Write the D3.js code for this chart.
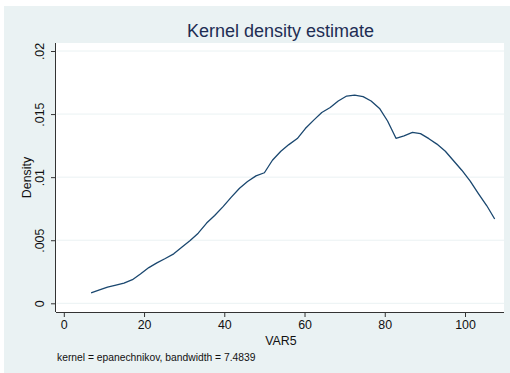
<!DOCTYPE html>
<html>
<head>
<meta charset="utf-8">
<script src="https://cdn.jsdelivr.net/npm/d3@7"></script>
<style>
  html, body { margin: 0; padding: 0; background: #ffffff; }
  svg { display: block; font-family: "Liberation Sans", Arial, sans-serif; }
</style>
</head>
<body>
<svg id="chart" width="510" height="373"></svg>
<script>
// Evaluation points of the density estimate (VAR5) and the estimated densities
const var5 = [6.8, 8.9, 10.9, 13.0, 15.0, 17.1, 19.1, 21.2, 23.2, 25.3,
              27.4, 29.4, 31.5, 33.5, 35.6, 37.6, 39.7, 41.7, 43.8, 45.8,
              47.9, 50.0, 52.0, 54.1, 56.1, 58.2, 60.2, 62.3, 64.3, 66.4,
              68.4, 70.5, 72.5, 74.6, 76.6, 78.7, 80.7, 82.8, 84.8, 86.9,
              88.9, 91.0, 93.0, 95.1, 97.2, 99.2, 101.3, 103.3, 105.4, 107.4];
const density = [0.00082, 0.00106, 0.00128, 0.00145, 0.00160, 0.00187, 0.00232, 0.00283, 0.00320, 0.00355,
                 0.00392, 0.00445, 0.00498, 0.00556, 0.00636, 0.00696, 0.00766, 0.00840, 0.00912, 0.00965,
                 0.01010, 0.01035, 0.01134, 0.01205, 0.01258, 0.01306, 0.01385, 0.01452, 0.01512, 0.01552,
                 0.01604, 0.01643, 0.01650, 0.01638, 0.01604, 0.01545, 0.01445, 0.01308, 0.01328, 0.01355,
                 0.01345, 0.01305, 0.01262, 0.01205, 0.01128, 0.01055, 0.00968, 0.00872, 0.00775, 0.00668];

const xTicks = [0, 20, 40, 60, 80, 100];
const yTicks = [0, 0.005, 0.01, 0.015, 0.02];
const yTickLabels = ["0", ".005", ".01", ".015", ".02"];

const titleText = "Kernel density estimate";
const xTitle = "VAR5";
const yTitle = "Density";
const noteText = "kernel = epanechnikov, bandwidth = 7.4839";

const svg = d3.select("#chart");
const W = 510, H = 373;

// graph region
svg.append("rect").attr("x", 4).attr("y", 6).attr("width", W - 4).attr("height", H - 6)
  .attr("fill", "#eaf2f3");

// plot region
const plot = { left: 56, right: 504, top: 43, bottom: 312 };
svg.append("rect")
  .attr("x", plot.left).attr("y", plot.top)
  .attr("width", plot.right - plot.left).attr("height", plot.bottom - plot.top)
  .attr("fill", "#ffffff");

const x = d3.scaleLinear().domain([0, 100]).range([63.8, 465.0]);
const y = d3.scaleLinear().domain([0, 0.02]).range([303.3, 51.0]);

// horizontal grid lines
svg.append("g").selectAll("line").data(yTicks).join("line")
  .attr("x1", plot.left + 1).attr("x2", plot.right)
  .attr("y1", d => y(d)).attr("y2", d => y(d))
  .attr("stroke", "#eaf2f3").attr("stroke-width", 1);

// density curve
const pts = var5.map((v, i) => [v, density[i]]);
svg.append("path")
  .datum(pts)
  .attr("fill", "none")
  .attr("stroke", "#1a476f")
  .attr("stroke-width", 1.3)
  .attr("stroke-linejoin", "round")
  .attr("d", d3.line().x(d => x(d[0])).y(d => y(d[1])));

// x axis
const xAxis = d3.axisBottom(x).tickValues(xTicks).tickSize(5).tickPadding(3)
  .tickFormat(d3.format("d"));
const gx = svg.append("g").attr("transform", `translate(0,${plot.bottom})`).call(xAxis);
gx.select(".domain").attr("d", `M${plot.left},0.5H${plot.right}`).attr("stroke", "#333");
gx.selectAll(".tick line").attr("stroke", "#333");
gx.selectAll(".tick text").attr("font-size", 12.4).attr("fill", "#111")
  .attr("font-family", "Liberation Sans, Arial, sans-serif");

// y axis
const yAxis = d3.axisLeft(y).tickValues(yTicks).tickSize(5).tickPadding(0)
  .tickFormat((d, i) => yTickLabels[i]);
const gy = svg.append("g").attr("transform", `translate(${plot.left},0)`).call(yAxis);
gy.select(".domain").attr("d", `M-0.5,${plot.top}V${plot.bottom}`).attr("stroke", "#333");
gy.selectAll(".tick line").attr("stroke", "#333");
gy.selectAll(".tick text")
  .attr("font-size", 12.4).attr("fill", "#111")
  .attr("font-family", "Liberation Sans, Arial, sans-serif")
  .attr("text-anchor", "middle")
  .attr("x", 0).attr("dy", 0)
  .attr("transform", "translate(-16,0) rotate(-90)")
  .attr("dominant-baseline", "central");

// titles
svg.append("text").attr("x", 280.5).attr("y", 36.5)
  .attr("text-anchor", "middle").attr("font-size", 18).attr("fill", "#1e2d53")
  .text(titleText);

svg.append("text").attr("x", 281).attr("y", 345)
  .attr("text-anchor", "middle").attr("font-size", 12.4).attr("fill", "#111")
  .text(xTitle);

svg.append("text")
  .attr("transform", `translate(31,${(plot.top + plot.bottom) / 2}) rotate(-90)`)
  .attr("text-anchor", "middle").attr("font-size", 12.4).attr("fill", "#111")
  .text(yTitle);

svg.append("text").attr("x", 57).attr("y", 361)
  .attr("font-size", 10.3).attr("fill", "#111")
  .text(noteText);
</script>
</body>
</html>
